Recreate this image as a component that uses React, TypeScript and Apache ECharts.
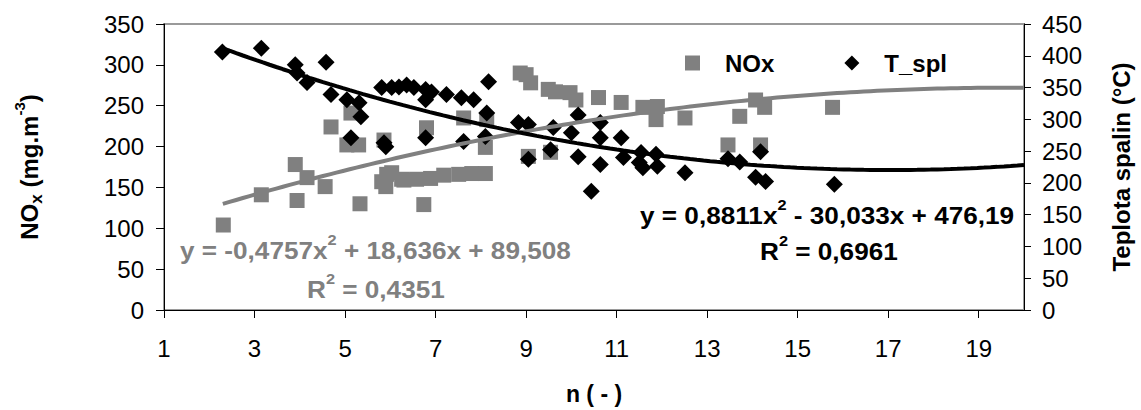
import React, { useEffect, useRef } from 'react';
import * as echarts from 'echarts';

const FONT = 'Liberation Sans, Arial, Helvetica, sans-serif';

// NOx measurements (x = n, y = mg/m3)
const noxX = [2.31, 3.15, 3.90, 3.94, 4.16, 4.56, 4.69, 5.04, 5.13, 5.30, 5.33, 5.81, 5.86, 5.90, 5.92, 6.03, 6.25, 6.30, 6.58, 6.74, 6.80, 6.89, 7.18, 7.51, 7.62, 7.80, 8.10, 8.10, 8.13, 8.87, 9.00, 9.05, 9.10, 9.49, 9.54, 9.65, 9.97, 10.10, 10.60, 11.10, 11.58, 11.87, 11.90, 12.51, 13.46, 13.72, 14.07, 14.18, 14.27, 15.77];
const noxY = [104, 141, 178, 134, 162, 151, 224, 202, 241, 202, 130, 157, 208, 151, 166, 168, 160, 159, 160, 129, 223, 161, 165, 166, 235, 167, 167, 199, 233, 290, 288, 188, 278, 270, 193, 267, 266, 257, 260, 254, 248, 233, 249, 235, 202, 237, 257, 202, 248, 248];

// Flue gas temperature (x = n, y = °C)
const tX = [2.29, 3.15, 3.90, 3.94, 4.16, 4.58, 4.69, 5.04, 5.13, 5.31, 5.35, 5.81, 5.86, 5.90, 6.03, 6.19, 6.36, 6.52, 6.78, 6.78, 6.78, 6.91, 7.24, 7.57, 7.62, 7.84, 8.10, 8.13, 8.17, 8.83, 9.05, 9.05, 9.54, 9.60, 10.00, 10.15, 10.15, 10.44, 10.64, 10.64, 10.64, 11.10, 11.15, 11.54, 11.50, 11.58, 11.87, 11.90, 12.51, 13.46, 13.72, 14.07, 14.18, 14.29, 15.81];
const tY = [406, 412, 386, 373, 358, 390, 339, 331, 271, 326, 304, 350, 263, 257, 350, 351, 354, 350, 347, 331, 271, 343, 339, 334, 265, 331, 273, 310, 359, 295, 292, 237, 252, 287, 279, 307, 241, 187, 295, 271, 229, 271, 240, 248, 232, 224, 245, 226, 216, 238, 233, 209, 249, 202, 198];

// Trendline coefficients shown on the chart (a x^2 + b x + c)
const noxFit = [-0.4757, 18.636, 89.508];
const tFit = [0.8811, -30.033, 476.19];
const fitFrom = 2.3;
const fitTo = 20;

const xTicks = [1, 3, 5, 7, 9, 11, 13, 15, 17, 19];

const noxEq = 'y = -0,4757x{sup|2} + 18,636x + 89,508';
const noxR2 = 'R{sup|2} = 0,4351';
const tEq = 'y = 0,8811x{sup|2} - 30,033x + 476,19';
const tR2 = 'R{sup|2} = 0,6961';

function trend(c: number[]) {
  const pts: number[][] = [];
  const n = 120;
  for (let i = 0; i <= n; i++) {
    const x = fitFrom + ((fitTo - fitFrom) * i) / n;
    pts.push([x, c[0] * x * x + c[1] * x + c[2]]);
  }
  return pts;
}

function eqText(x: number, y: number, text: string, color: string) {
  return {
    type: 'text',
    x,
    y,
    scaleX: 1.09,
    z: 100,
    style: {
      text,
      fill: color,
      fontFamily: FONT,
      fontWeight: 'bold',
      fontSize: 24,
      align: 'left',
      verticalAlign: 'middle',
      lineHeight: 34,
      rich: {
        sup: {
          fill: color,
          fontFamily: FONT,
          fontWeight: 'bold',
          fontSize: 15,
          verticalAlign: 'top',
          height: 14,
        },
      },
    },
  };
}

export default function App() {
  const ref = useRef<HTMLDivElement>(null);
  useEffect(() => {
    if (!ref.current) return;
    const chart = echarts.init(ref.current, null, { renderer: 'svg' });
    const axisLine = { show: true, lineStyle: { color: '#000', width: 1 } };
    const labelStyle = { color: '#000', fontSize: 24, fontFamily: FONT };
    chart.setOption({
      animation: false,
      backgroundColor: '#fff',
      grid: {
        left: 164,
        right: 113,
        top: 24,
        bottom: 99,
        show: true,
        borderColor: '#9a9a9a',
        borderWidth: 2,
        backgroundColor: 'transparent',
      },
      legend: {
        left: 680,
        top: 46,
        itemWidth: 15,
        itemHeight: 15,
        itemGap: 70,
        textStyle: { color: '#000', fontSize: 24, fontWeight: 'bold', fontFamily: FONT, padding: [0, 0, 0, 20] },
        data: [
          { name: 'NOx', icon: 'rect' },
          { name: 'T_spl', icon: 'diamond' },
        ],
      },
      xAxis: {
        type: 'value',
        min: 1,
        max: 20,
        axisLine,
        axisTick: { show: true, length: 8, lineStyle: { color: '#000' }, customValues: xTicks },
        axisLabel: { ...labelStyle, margin: 26, customValues: xTicks },
        splitLine: { show: false },
        name: 'n ( - )',
        nameLocation: 'middle',
        nameGap: 72,
        nameTextStyle: { color: '#000', fontSize: 23, fontWeight: 'bold', fontFamily: FONT },
      },
      yAxis: [
        {
          type: 'value',
          min: 0,
          max: 350,
          interval: 50,
          position: 'left',
          axisLine,
          axisTick: { show: true, length: 8, lineStyle: { color: '#000' } },
          axisLabel: { ...labelStyle, margin: 20 },
          splitLine: { show: false },
          name: '{b|NO}{sub|x}{b| (mg.m}{sup|-3}{b|)}',
          nameLocation: 'middle',
          nameRotate: 90,
          nameGap: 118,
          nameTextStyle: {
            color: '#000',
            fontSize: 24,
            fontWeight: 'bold',
            fontFamily: FONT,
            rich: {
              b: { color: '#000', fontSize: 24, fontWeight: 'bold', fontFamily: FONT, lineHeight: 34 },
              sub: { color: '#000', fontSize: 17, fontWeight: 'bold', fontFamily: FONT, verticalAlign: 'bottom', height: 20, lineHeight: 34 },
              sup: { color: '#000', fontSize: 15, fontWeight: 'bold', fontFamily: FONT, verticalAlign: 'top', height: 14, lineHeight: 34 },
            },
          },
        },
        {
          type: 'value',
          min: 0,
          max: 450,
          interval: 50,
          position: 'right',
          axisLine,
          axisTick: { show: true, length: 7, lineStyle: { color: '#000' } },
          axisLabel: { ...labelStyle, margin: 18 },
          splitLine: { show: false },
          name: 'Teplota spalin (°C)',
          nameLocation: 'middle',
          nameRotate: 90,
          nameGap: 85,
          nameTextStyle: { color: '#000', fontSize: 24, fontWeight: 'bold', fontFamily: FONT },
        },
      ],
      series: [
        {
          name: 'NOx',
          type: 'scatter',
          symbol: 'rect',
          symbolSize: 15,
          itemStyle: { color: '#808080', opacity: 1 },
          data: noxX.map((x, i) => [x, noxY[i]]),
          z: 2,
        },
        {
          name: 'T_spl',
          type: 'scatter',
          symbol: 'diamond',
          symbolSize: 17,
          yAxisIndex: 1,
          itemStyle: { color: '#000', opacity: 1 },
          data: tX.map((x, i) => [x, tY[i]]),
          z: 3,
        },
        {
          name: 'NOx trend',
          type: 'line',
          showSymbol: false,
          silent: true,
          smooth: false,
          lineStyle: { color: '#808080', width: 4 },
          data: trend(noxFit),
          z: 4,
        },
        {
          name: 'T_spl trend',
          type: 'line',
          showSymbol: false,
          silent: true,
          yAxisIndex: 1,
          lineStyle: { color: '#000', width: 4 },
          data: trend(tFit),
          z: 5,
        },
      ],
      graphic: [
        eqText(180, 250, noxEq, '#808080'),
        eqText(307, 289, noxR2, '#808080'),
        eqText(640, 215, tEq, '#000'),
        eqText(760, 251, tR2, '#000'),
      ],
    });
    return () => chart.dispose();
  }, []);
  return (
    <div
      ref={ref}
      style={{ position: 'fixed', left: 0, top: 0, width: 1141, height: 410, background: '#fff' }}
    />
  );
}
